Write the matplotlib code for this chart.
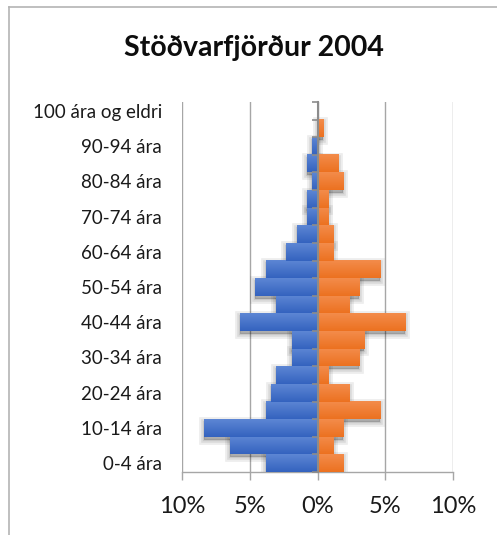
import numpy as np
import matplotlib
matplotlib.use("Agg")
import matplotlib.pyplot as plt
from matplotlib.colors import LinearSegmentedColormap
from matplotlib.lines import Line2D
import matplotlib.patheffects as pe

plt.rcParams['font.family'] = ['Lato', 'DejaVu Sans']

title = "Stöðvarfjörður 2004"
age_groups = ["0-4 ára", "5-9 ára", "10-14 ára", "15-19 ára", "20-24 ára",
              "25-29 ára", "30-34 ára", "35-39 ára", "40-44 ára", "45-49 ára",
              "50-54 ára", "55-59 ára", "60-64 ára", "65-69 ára", "70-74 ára",
              "75-79 ára", "80-84 ára", "85-89 ára", "90-94 ára", "95-99 ára",
              "100 ára og eldri"]
# share of population (%) per age group
karlar = [3.82, 6.49, 8.40, 3.82, 3.44, 3.05, 1.91, 1.91, 5.73, 3.05, 4.58,
          3.82, 2.29, 1.53, 0.76, 0.76, 0.38, 0.76, 0.38, 0.0, 0.0]
konur = [1.91, 1.15, 1.91, 4.58, 2.29, 0.76, 3.05, 3.44, 6.49, 2.29, 3.05,
         4.58, 1.15, 1.15, 0.76, 0.76, 1.91, 1.53, 0.0, 0.38, 0.0]
x_ticks = [-10, -5, 0, 5, 10]
x_ticklabels = ["10%", "5%", "0%", "5%", "10%"]

W, H = 497, 535
fig = plt.figure(figsize=(W / 100, H / 100), dpi=100)
ax = fig.add_axes([182 / W, (H - 472) / H, (453 - 182) / W, (472 - 102) / H])

pos = np.arange(len(age_groups))
grey = "#a6a6a6"
axis_grey = "#8c8c8c"

shadow = [pe.SimplePatchShadow(offset=(0, -2), shadow_rgbFace="black", alpha=0.07,
                               linewidth=7, foreground="black"),
          pe.SimplePatchShadow(offset=(0, -2), shadow_rgbFace="black", alpha=0.08,
                               linewidth=4, foreground="black"),
          pe.SimplePatchShadow(offset=(0, -2), shadow_rgbFace="black", alpha=0.08,
                               linewidth=1.5, foreground="black")]

blue_cmap = LinearSegmentedColormap.from_list("b", ["#3463bf", "#5d86d4"])
orange_cmap = LinearSegmentedColormap.from_list("o", ["#ec7120", "#f38c4b"])
grad = np.linspace(0, 1, 64).reshape(-1, 1)

b_m = ax.barh(pos, -np.array(karlar), height=1.0, color="#4472c4", zorder=2)
b_f = ax.barh(pos, np.array(konur), height=1.0, color="#ed7d31", zorder=2)

for bars, cmap in ((b_m, blue_cmap), (b_f, orange_cmap)):
    for p in bars:
        w = p.get_width()
        if w == 0:
            p.set_visible(False)
            continue
        p.set_path_effects(shadow)
        x0, y0 = p.get_x(), p.get_y()
        ax.imshow(grad, extent=[x0, x0 + w, y0, y0 + p.get_height()],
                  origin="lower", cmap=cmap, aspect="auto",
                  interpolation="bilinear", zorder=3)

ax.set_xlim(-10, 10)
ax.set_ylim(-0.5, len(age_groups) - 0.5)
ax.set_axisbelow(True)
ax.xaxis.grid(True, color=grey, linewidth=1.0)
ax.yaxis.grid(False)

ax.set_xticks(x_ticks)
ax.set_xticklabels(x_ticklabels, fontsize=17, color="#1a1a1a")
ax.tick_params(axis="x", direction="out", length=6, width=1.0, color=grey, pad=11)

ax.set_yticks(pos[::2])
ax.set_yticklabels(age_groups[::2], fontsize=13.5, color="#1a1a1a")
ax.tick_params(axis="y", length=0, pad=14.5)

for s in ("top", "right", "left"):
    ax.spines[s].set_visible(False)
ax.spines["bottom"].set_color(grey)
ax.spines["bottom"].set_linewidth(1.0)

# centre axis with category boundary ticks pointing left
sec = ax.secondary_yaxis(0.5)
sec.set_yticks(np.arange(-0.5, len(age_groups), 1.0))
sec.set_yticklabels([])
sec.tick_params(axis="y", which="both", direction="in", length=4.5, width=1.2,
                color=axis_grey, left=False, right=True)
for s in sec.spines.values():
    s.set_color(axis_grey)
    s.set_linewidth(1.5)
sec.set_zorder(5)

fig.text(254 / W, 1 - 48 / H, title, fontsize=20.5, fontweight="bold",
         ha="center", va="center", color="#0d0d0d")

# chart frame
fig.add_artist(Line2D([9 / W, 9 / W], [0, 1 - 7 / H], transform=fig.transFigure,
                      color="#b4b4b4", linewidth=1.2))
fig.add_artist(Line2D([9 / W, 1], [1 - 7 / H, 1 - 7 / H], transform=fig.transFigure,
                      color="#b4b4b4", linewidth=1.2))

fig.savefig("out.png", dpi=100)
